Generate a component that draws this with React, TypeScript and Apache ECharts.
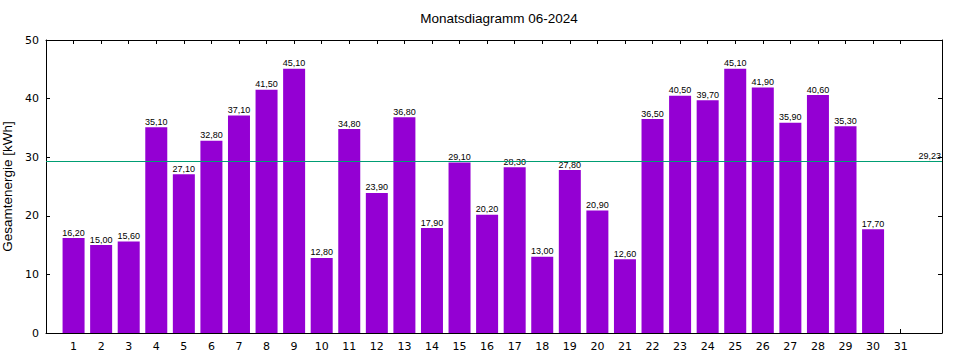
import React, { useEffect, useRef } from "react";
import * as echarts from "echarts";

const TITLE = "Monatsdiagramm 06-2024";
const Y_NAME = "Gesamtenergie [kWh]";
const DAYS = Array.from({ length: 31 }, (_, i) => i + 1);
const VALUES = [
  16.2, 15.0, 15.6, 35.1, 27.1, 32.8, 37.1, 41.5, 45.1, 12.8,
  34.8, 23.9, 36.8, 17.9, 29.1, 20.2, 28.3, 13.0, 27.8, 20.9,
  12.6, 36.5, 40.5, 39.7, 45.1, 41.9, 35.9, 40.6, 35.3, 17.7,
];
const AVERAGE = 29.23;
const Y_MIN = 0;
const Y_MAX = 50;
const Y_STEP = 10;
const X_MIN = 0;
const X_MAX = 32.5;

const fmt = (v: number) => v.toFixed(2).replace(".", ",");

export default function App() {
  const ref = useRef<HTMLDivElement>(null);
  useEffect(() => {
    if (!ref.current) return;
    const chart = echarts.init(ref.current, null, { renderer: "svg" });
    const font = "Liberation Sans, Arial, sans-serif";
    const tickFont = "DejaVu Sans, sans-serif";
    const axisLine = { show: true, onZero: false, lineStyle: { color: "#000", width: 1 } };
    chart.setOption({
      animation: false,
      backgroundColor: "#fff",
      title: {
        text: TITLE,
        left: 494,
        textAlign: "center",
        top: 6,
        textStyle: { fontFamily: font, fontSize: 13.5, fontWeight: "normal", color: "#000" },
      },
      grid: { left: 46, right: 18, top: 40, bottom: 27, containLabel: false, outerBoundsMode: "none" },
      xAxis: [
        {
          type: "value",
          min: X_MIN,
          max: X_MAX,
          interval: 1,
          position: "bottom",
          axisLine,
          splitLine: { show: false },
          axisTick: { show: true, inside: true, length: 4, customValues: DAYS, lineStyle: { color: "#000" } },
          axisLabel: {
            customValues: DAYS,
            margin: 8,
            color: "#000",
            fontFamily: tickFont,
            fontSize: 11,
          },
        },
        {
          type: "value",
          min: X_MIN,
          max: X_MAX,
          interval: 1,
          position: "top",
          axisLine,
          splitLine: { show: false },
          axisTick: { show: true, inside: true, length: 4, customValues: DAYS, lineStyle: { color: "#000" } },
          axisLabel: { show: false },
        },
      ],
      yAxis: [
        {
          type: "value",
          min: Y_MIN,
          max: Y_MAX,
          interval: Y_STEP,
          position: "left",
          name: Y_NAME,
          nameLocation: "middle",
          nameGap: 26,
          nameTextStyle: { fontFamily: font, fontSize: 13.5, color: "#000" },
          axisLine,
          splitLine: { show: false },
          axisTick: { show: true, inside: true, length: 4, lineStyle: { color: "#000" } },
          axisLabel: { margin: 7, color: "#000", fontFamily: tickFont, fontSize: 11 },
        },
        {
          type: "value",
          min: Y_MIN,
          max: Y_MAX,
          interval: Y_STEP,
          position: "right",
          axisLine,
          splitLine: { show: false },
          axisTick: { show: true, inside: true, length: 4, lineStyle: { color: "#000" } },
          axisLabel: { show: false },
        },
      ],
      series: [
        {
          type: "bar",
          xAxisIndex: 0,
          yAxisIndex: 0,
          barWidth: 22,
          data: VALUES.map((v, i) => [DAYS[i], v]),
          itemStyle: { color: "#9400d3" },
          label: {
            show: true,
            position: "top",
            distance: 1,
            color: "#000",
            fontFamily: font,
            fontSize: 9,
            formatter: (p: any) => fmt(p.value[1]),
          },
          markLine: {
            symbol: "none",
            silent: true,
            z: 10,
            lineStyle: { color: "#009e73", width: 1, type: "solid" },
            label: {
              show: true,
              position: "insideEndTop",
              distance: [1, 1],
              color: "#000",
              fontFamily: font,
              fontSize: 9,
              formatter: () => fmt(AVERAGE),
            },
            data: [{ yAxis: AVERAGE }],
          },
        },
      ],
    });
    return () => chart.dispose();
  }, []);
  return (
    <div
      ref={ref}
      style={{ position: "fixed", left: 0, top: 0, width: 960, height: 360, background: "#fff" }}
    />
  );
}
